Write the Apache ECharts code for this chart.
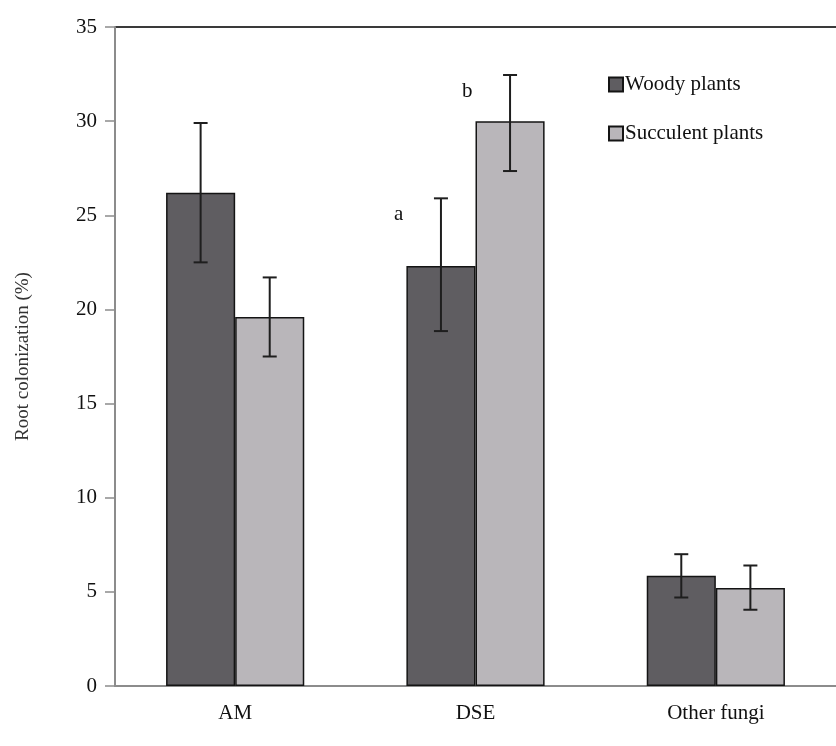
<!DOCTYPE html>
<html>
<head>
<meta charset="utf-8">
<script src="https://cdn.jsdelivr.net/npm/echarts@6/dist/echarts.min.js"></script>
<style>
  html, body { margin: 0; padding: 0; background: #fff; }
  #main { width: 836px; height: 746px; }
</style>
</head>
<body>
<div id="main"></div>
<script>
var categories = ['AM', 'DSE', 'Other fungi'];
var seriesNames = ['Woody plants', 'Succulent plants'];
var woody = [26.2, 22.3, 5.85];
var woodyLow = [22.5, 18.85, 4.7];
var woodyHigh = [29.9, 25.9, 7.0];
var succulent = [19.6, 30.0, 5.2];
var succulentLow = [17.5, 27.35, 4.05];
var succulentHigh = [21.7, 32.45, 6.4];
var woodyLetters = ['', 'a', ''];
var succulentLetters = ['', 'b', ''];
var yTicks = [0, 5, 10, 15, 20, 25, 30, 35];

var gapRatio = 0.425;
var fontFam = '"Liberation Serif", "DejaVu Serif", serif';

// error bar + significance letter drawn on top of each bar
function errorSeries(name, low, high, letters, side) {
    var rows = categories.map(function(c, i){ return [i, low[i], high[i], letters[i]]; });
    return {
        type: 'custom',
        name: name + ' err',
        z: 5,
        silent: true,
        renderItem: function(params, api){
            var band = api.size([1, 0])[0];
            var barW = band * (1 - gapRatio) / 2;
            var top = api.coord([api.value(0), api.value(2)]);
            var bot = api.coord([api.value(0), api.value(1)]);
            var x = top[0] + side * barW / 2;
            var cap = 7;
            var st = { stroke: '#1e1e1e', lineWidth: 2 };
            var children = [
                { type: 'line', shape: { x1: x, y1: top[1], x2: x, y2: bot[1] }, style: st },
                { type: 'line', shape: { x1: x - cap, y1: top[1], x2: x + cap, y2: top[1] }, style: st },
                { type: 'line', shape: { x1: x - cap, y1: bot[1], x2: x + cap, y2: bot[1] }, style: st }
            ];
            var letter = rows[params.dataIndex][3];
            if (letter) {
                children.push({
                    type: 'text',
                    style: {
                        text: letter, x: x - barW / 2 - 3, y: top[1] + 16,
                        fill: '#111', font: '21px ' + fontFam,
                        align: 'right', verticalAlign: 'middle'
                    }
                });
            }
            return { type: 'group', children: children };
        },
        encode: { x: 0, y: [1, 2] },
        data: rows
    };
}

var option = {
    backgroundColor: '#fff',
    animation: false,
    textStyle: { fontFamily: fontFam },
    grid: { left: 115, right: 0, top: 27, bottom: 60 },
    legend: {
        data: seriesNames.map(function(n){ return { name: n, icon: 'rect' }; }),
        orient: 'vertical',
        left: 603,
        top: 69,
        itemWidth: 14,
        itemHeight: 14,
        itemGap: 28,
        textStyle: { fontFamily: fontFam, fontSize: 21, color: '#111', padding: [0, 0, 0, -3] }
    },
    xAxis: {
        type: 'category',
        data: categories,
        axisLine: { lineStyle: { color: '#8c8c8c', width: 2 } },
        axisTick: { show: false },
        axisLabel: { color: '#111', fontSize: 21, fontFamily: fontFam, margin: 17 }
    },
    yAxis: {
        type: 'value',
        min: 0,
        max: 35,
        interval: 5,
        name: 'Root colonization (%)',
        nameLocation: 'middle',
        nameGap: 82,
        nameTextStyle: { color: '#333', fontSize: 19, fontFamily: fontFam },
        axisLine: { show: true, lineStyle: { color: '#8c8c8c', width: 2 } },
        axisTick: { show: true, inside: false, length: 10, lineStyle: { color: '#8c8c8c', width: 1.5 } },
        axisLabel: {
            color: '#111', fontSize: 21, fontFamily: fontFam, margin: 18,
            formatter: function(v){ return yTicks.indexOf(v) >= 0 ? String(v) : ''; }
        },
        splitLine: {
            show: true,
            lineStyle: {
                color: yTicks.map(function(t, i){ return i === yTicks.length - 1 ? '#3a3a3a' : 'rgba(0,0,0,0)'; }),
                width: 2
            }
        }
    },
    series: [
        {
            name: seriesNames[0],
            type: 'bar',
            data: woody,
            barGap: '0%',
            barCategoryGap: (gapRatio * 100) + '%',
            itemStyle: { color: '#5f5d61', borderColor: '#141414', borderWidth: 1.5 }
        },
        {
            name: seriesNames[1],
            type: 'bar',
            data: succulent,
            barGap: '0%',
            barCategoryGap: (gapRatio * 100) + '%',
            itemStyle: { color: '#b9b6ba', borderColor: '#141414', borderWidth: 1.5 }
        },
        errorSeries(seriesNames[0], woodyLow, woodyHigh, woodyLetters, -1),
        errorSeries(seriesNames[1], succulentLow, succulentHigh, succulentLetters, 1)
    ]
};

var myChart = echarts.init(document.getElementById('main'));
myChart.setOption(option);
</script>
</body>
</html>
